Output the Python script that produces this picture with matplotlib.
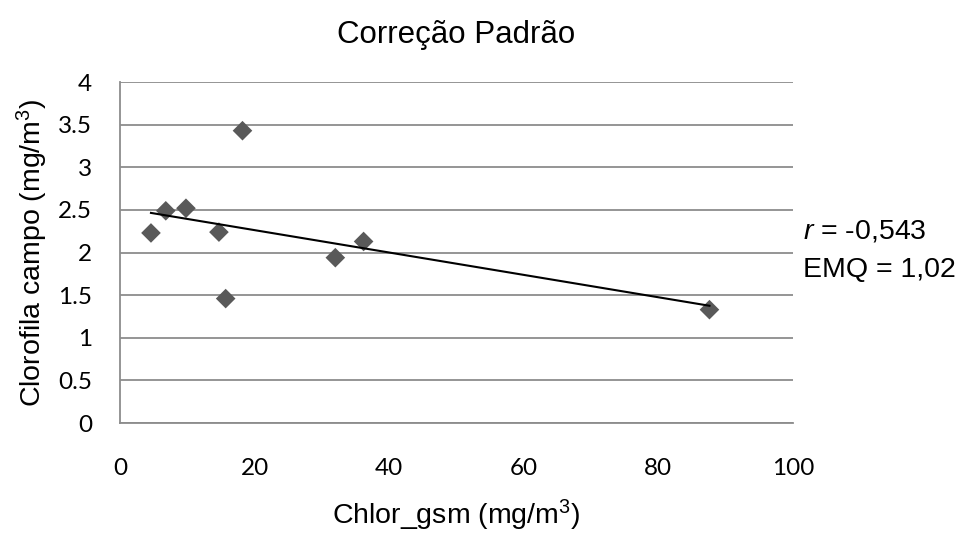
import matplotlib
matplotlib.use("Agg")
import matplotlib.pyplot as plt
import numpy as np

# valeurs
chlor_gsm = [4.6, 6.8, 9.8, 18.2, 14.7, 15.7, 32.0, 36.2, 87.6]
clorofila_campo = [2.23, 2.49, 2.52, 3.43, 2.24, 1.46, 1.94, 2.13, 1.33]
x_ticks = [0, 20, 40, 60, 80, 100]
y_ticks = [0, 0.5, 1, 1.5, 2, 2.5, 3, 3.5, 4]
y_tick_labels = ["0", "0.5", "1", "1.5", "2", "2.5", "3", "3.5", "4"]

grid_col = "#8c8c8c"
arial = "Liberation Sans"
calibri = "Lato"

plt.rcParams["mathtext.fontset"] = "custom"
plt.rcParams["mathtext.rm"] = arial
plt.rcParams["mathtext.it"] = arial + ":italic"

fig = plt.figure(figsize=(9.64, 5.36), dpi=100)
ax = fig.add_axes([0.1245, 0.2108, 0.698, 0.636])

ax.scatter(chlor_gsm, clorofila_campo, marker="D", s=100, color="#595959",
           edgecolors="none", zorder=3)

# ligne de tendance linéaire
a, b = np.polyfit(chlor_gsm, clorofila_campo, 1)
xs = np.array([min(chlor_gsm), max(chlor_gsm)])
ax.plot(xs, a * xs + b, color="black", lw=1.5, zorder=4)

ax.set_xlim(0, 100)
ax.set_ylim(0, 4)
ax.set_xticks(x_ticks)
ax.set_yticks(y_ticks)
ax.set_yticklabels(y_tick_labels)
ax.tick_params(length=0, labelsize=17.5)
ax.tick_params(axis="x", pad=25)
ax.tick_params(axis="y", pad=20)
for lab in ax.get_xticklabels() + ax.get_yticklabels():
    lab.set_fontfamily(calibri)

ax.grid(axis="y", color=grid_col, lw=1.3)
ax.set_axisbelow(True)
for s in ["top", "right"]:
    ax.spines[s].set_visible(False)
for s in ["left", "bottom"]:
    ax.spines[s].set_color(grid_col)
    ax.spines[s].set_linewidth(1.3)

ax.set_title("Correção Padrão", fontfamily=arial, fontsize=22.5, pad=28)
ax.set_xlabel("Chlor_gsm (mg/m$^3$)", fontfamily=arial, fontsize=20.5, labelpad=14)
ax.set_ylabel("Clorofila campo (mg/m$^3$)", fontfamily=arial, fontsize=20.5, labelpad=6)

fig.text(0.833, 0.568, "$\\it{r}$ = -0,543", fontfamily=arial, fontsize=20.5,
         va="center", ha="left")
fig.text(0.833, 0.497, "EMQ = 1,02", fontfamily=arial, fontsize=20.5,
         va="center", ha="left")

plt.savefig("out.png", dpi=100)
